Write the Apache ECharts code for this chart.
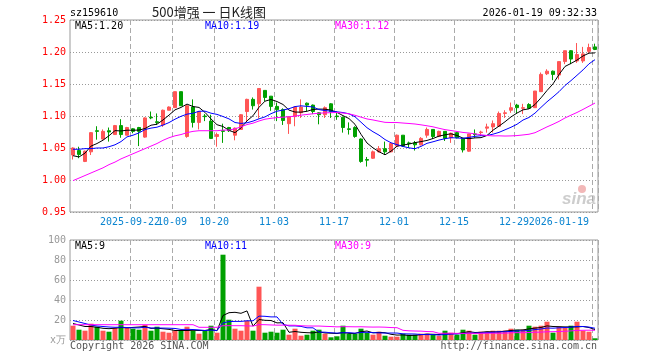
<!DOCTYPE html>
<html><head><meta charset="utf-8">
<script src="https://cdn.jsdelivr.net/npm/echarts@6/dist/echarts.min.js"></script>
<style>html,body{margin:0;padding:0;background:#fff}#c{width:660px;height:360px}</style>
</head><body><div id="c"></div>
<script>
const dates = [
'2025-09-08','2025-09-09','2025-09-10','2025-09-11','2025-09-12','2025-09-15','2025-09-16','2025-09-17','2025-09-18','2025-09-19',
'2025-09-22','2025-09-23','2025-09-24','2025-09-25','2025-09-26','2025-09-29','2025-09-30',
'2025-10-09','2025-10-10','2025-10-13','2025-10-14','2025-10-15','2025-10-16','2025-10-17','2025-10-20','2025-10-21','2025-10-22','2025-10-23','2025-10-24','2025-10-27','2025-10-28','2025-10-29','2025-10-30','2025-10-31',
'2025-11-03','2025-11-04','2025-11-05','2025-11-06','2025-11-07','2025-11-10','2025-11-11','2025-11-12','2025-11-13','2025-11-14','2025-11-17','2025-11-18','2025-11-19','2025-11-20','2025-11-21','2025-11-24','2025-11-25','2025-11-26','2025-11-27','2025-11-28',
'2025-12-01','2025-12-02','2025-12-03','2025-12-04','2025-12-05','2025-12-08','2025-12-09','2025-12-10','2025-12-11','2025-12-12','2025-12-15','2025-12-16','2025-12-17','2025-12-18','2025-12-19','2025-12-22','2025-12-23','2025-12-24','2025-12-25','2025-12-26','2025-12-29','2025-12-30','2025-12-31',
'2026-01-05','2026-01-06','2026-01-07','2026-01-08','2026-01-09','2026-01-12','2026-01-13','2026-01-14','2026-01-15','2026-01-16','2026-01-19'];

const opens = [1.039,1.046,1.029,1.044,1.077,1.064,1.077,1.071,1.085,1.070,
1.080,1.082,1.067,1.098,1.091,1.086,1.109,1.113,1.138,1.068,
1.114,1.090,1.100,1.092,1.068,1.077,1.082,1.070,1.079,1.107,
1.126,1.119,1.140,1.131,1.115,1.110,1.088,1.099,1.105,1.120,
1.117,1.105,1.102,1.119,1.100,1.098,1.080,1.082,1.064,1.032,
1.034,1.044,1.049,1.044,1.053,1.070,1.058,1.058,1.055,1.070,
1.079,1.068,1.076,1.066,1.074,1.065,1.045,1.072,1.074,1.081,
1.083,1.084,1.104,1.109,1.117,1.112,1.118,1.113,1.138,1.166,
1.170,1.164,1.185,1.202,1.186,1.186,1.201,1.208];
const closes = [1.050,1.040,1.045,1.074,1.076,1.076,1.075,1.085,1.071,1.082,
1.076,1.076,1.097,1.097,1.090,1.109,1.114,1.138,1.116,1.116,
1.090,1.107,1.099,1.065,1.071,1.076,1.077,1.081,1.102,1.126,
1.116,1.143,1.129,1.115,1.110,1.093,1.099,1.114,1.114,1.117,
1.107,1.102,1.113,1.107,1.099,1.082,1.079,1.068,1.029,1.031,
1.044,1.049,1.044,1.057,1.070,1.053,1.057,1.055,1.065,1.079,
1.068,1.076,1.065,1.073,1.066,1.047,1.072,1.071,1.075,1.083,
1.088,1.104,1.105,1.113,1.113,1.113,1.112,1.139,1.165,1.170,
1.165,1.185,1.202,1.189,1.196,1.197,1.207,1.204];
const lows = [1.032,1.034,1.028,1.039,1.063,1.063,1.060,1.071,1.066,1.070,
1.073,1.053,1.066,1.095,1.086,1.083,1.109,1.113,1.116,1.066,
1.082,1.079,1.092,1.064,1.052,1.058,1.075,1.062,1.079,1.091,
1.110,1.096,1.123,1.108,1.092,1.086,1.072,1.084,1.097,1.107,
1.103,1.087,1.097,1.097,1.094,1.074,1.071,1.066,1.027,1.021,
1.033,1.043,1.040,1.043,1.052,1.052,1.050,1.046,1.054,1.066,
1.064,1.067,1.061,1.058,1.065,1.043,1.044,1.066,1.069,1.074,
1.074,1.084,1.097,1.105,1.104,1.103,1.111,1.113,1.138,1.164,
1.156,1.157,1.181,1.181,1.183,1.183,1.198,1.203];
const highs = [1.051,1.052,1.046,1.075,1.084,1.079,1.082,1.086,1.095,1.083,
1.081,1.083,1.098,1.107,1.104,1.110,1.115,1.138,1.138,1.117,
1.126,1.108,1.103,1.102,1.074,1.088,1.083,1.082,1.103,1.127,
1.129,1.143,1.140,1.131,1.121,1.112,1.100,1.115,1.126,1.121,
1.118,1.106,1.115,1.120,1.107,1.099,1.090,1.084,1.065,1.036,
1.046,1.053,1.060,1.058,1.071,1.070,1.060,1.061,1.067,1.082,
1.079,1.077,1.076,1.074,1.075,1.065,1.072,1.079,1.077,1.088,
1.093,1.107,1.109,1.121,1.119,1.119,1.120,1.139,1.168,1.173,
1.171,1.185,1.202,1.203,1.214,1.208,1.213,1.213];
const volumes = [14.3,10.3,9.3,16.3,13.3,9.3,8.3,12,19.3,12,
11.3,10.3,15,9.3,13.3,8.3,7.3,9.3,9.3,13.3,
9.3,6.3,9.3,14.3,7.3,85.3,20.3,11.3,9.3,19.3,
9.3,53.3,7.3,8.3,7.3,10.3,5.3,11.3,4.3,5.3,
9.3,10.3,6.3,2.7,3.7,14.3,6,6,11.3,7.3,
5.3,8.3,4.3,3.3,3.3,6.3,5.3,5.3,6.3,6.3,
5.3,4.3,9.3,7.3,5.3,10.3,9.3,5.3,8.3,8.3,
9.3,9.3,9.3,11.3,10.3,10.3,14.3,13.3,14.3,18.3,
7.3,13.3,12.3,14.3,18.3,9.3,8.3,1.7];

// MA values for days whose window reaches before the first shown day
const ma5Head = [1.038,1.036,1.042,1.053];
const ma10Head = [1.048,1.048,1.049,1.049,1.050,1.050,1.052,1.055,1.060];
const ma30Head = [0.999,1.003,1.007,1.011,1.015,1.019,1.024,1.028,1.033,1.037,1.041,1.045,1.049,1.053,1.057,1.062,1.066,1.069,1.071,1.074,1.076,1.077,1.077,1.077,1.077,1.078,1.078,1.080,1.083];
const volMa5Head = [16.5,15,13.5,13.5];
const volMa10Head = [19.5,18,16.5,15,14,13.5,13,12.7,12.8];
const volMa30Head = [15.3,15.3,15.3,15.3,15.3,15.3,15.3,15.3,15.3,15.3,15.3,15.3,15.3,15.3,15.3,15.3,15.3,15.3,15.3,15.3,15.3,12.7,12.7,12.7,12.7,14.3,14.3,14.3,14.3];

const tickDates = ['2025-09-22','2025-10-09','2025-10-20','2025-11-03','2025-11-17','2025-12-01','2025-12-15','2025-12-29','2026-01-19'];
const tickTexts = ['2025-09-22','10-09','10-20','11-03','11-17','12-01','12-15','12-29','2026-01-19'];
const priceLegend = ['MA5:1.20','MA10:1.19','MA30:1.12'];
const volLegend = ['MA5:9','MA10:11','MA30:9'];
const volUnit = 'x万';

function movingAvg(vals, n, head) {
  return vals.map((v, i) => {
    if (i < head.length) return head[i];
    let s = 0; for (let k = i - n + 1; k <= i; k++) s += vals[k];
    return +(s / n).toFixed(4);
  });
}

const RED = '#ff5555', GREEN = '#00a000';
const MONO = '"DejaVu Sans Mono", "Liberation Mono", monospace';
const isTick = (i, v) => tickDates.indexOf(v) >= 0;

const chart = echarts.init(document.getElementById('c'), null, {renderer: 'canvas'});
const xBase = (gi, labels) => ({
  type: 'category', gridIndex: gi, data: dates, boundaryGap: true,
  axisLine: {show: false}, axisTick: {show: false},
  axisLabel: labels ? {
    show: true, interval: 0, hideOverlap: false,
    formatter: v => { const k = tickDates.indexOf(v); return k >= 0 ? tickTexts[k] : ''; },
    color: '#0a84d0', fontFamily: MONO, fontSize: 10, margin: 5, padding: [0, 6, 0, 0],
    alignMaxLabel: 'right'
  } : {show: false},
  splitLine: {show: true, interval: isTick, lineStyle: {color: '#aaa', type: [5, 3], width: 1}}
});
const legendText = (x, y, text, color) => ({type: 'text', x: x, y: y, silent: true,
  style: {text: text, fill: color, font: '10px ' + MONO, textVerticalAlign: 'middle'}});

chart.setOption({
  animation: false,
  backgroundColor: '#fff',
  grid: [
    {left: 70, top: 20, width: 528, height: 192, show: true, borderColor: '#999', borderWidth: 1},
    {left: 70, top: 240, width: 528, height: 100, show: true, borderColor: '#999', borderWidth: 1}
  ],
  xAxis: [xBase(0, true), xBase(1, false)],
  yAxis: [
    {type: 'value', gridIndex: 0, min: 0.95, max: 1.25, interval: 0.05,
     axisLine: {show: false}, axisTick: {show: false},
     axisLabel: {color: '#ff0000', fontFamily: MONO, fontSize: 10, margin: 4, formatter: v => v.toFixed(2)},
     splitLine: {lineStyle: {color: '#999', type: [1, 2]}}},
    {type: 'value', gridIndex: 1, min: 0, max: 100, interval: 20,
     axisLine: {show: false}, axisTick: {show: false},
     axisLabel: {color: '#999', fontFamily: MONO, fontSize: 10, margin: 4, formatter: v => v === 0 ? volUnit : String(v)},
     splitLine: {lineStyle: {color: '#999', type: [1, 2]}}}
  ],
  series: [
    {type: 'candlestick', xAxisIndex: 0, yAxisIndex: 0, barWidth: 4, silent: true,
     data: dates.map((d, i) => [opens[i], closes[i], lows[i], highs[i]]),
     itemStyle: {color: RED, color0: GREEN, borderColor: RED, borderColor0: GREEN, borderWidth: 1}},
    {type: 'line', xAxisIndex: 0, yAxisIndex: 0, data: movingAvg(closes, 5, ma5Head), symbol: 'none', silent: true,
     lineStyle: {color: '#000', width: 1}},
    {type: 'line', xAxisIndex: 0, yAxisIndex: 0, data: movingAvg(closes, 10, ma10Head), symbol: 'none', silent: true,
     lineStyle: {color: '#0000ff', width: 1}},
    {type: 'line', xAxisIndex: 0, yAxisIndex: 0, data: movingAvg(closes, 30, ma30Head), symbol: 'none', silent: true,
     lineStyle: {color: '#ff00ff', width: 1}},
    {type: 'bar', xAxisIndex: 1, yAxisIndex: 1, barWidth: 5, silent: true,
     data: volumes.map((v, i) => ({value: v, itemStyle: {color: closes[i] >= opens[i] ? RED : GREEN}}))},
    {type: 'line', xAxisIndex: 1, yAxisIndex: 1, data: movingAvg(volumes, 5, volMa5Head), symbol: 'none', silent: true,
     lineStyle: {color: '#000', width: 1}},
    {type: 'line', xAxisIndex: 1, yAxisIndex: 1, data: movingAvg(volumes, 10, volMa10Head), symbol: 'none', silent: true,
     lineStyle: {color: '#0000ff', width: 1}},
    {type: 'line', xAxisIndex: 1, yAxisIndex: 1, data: movingAvg(volumes, 30, volMa30Head), symbol: 'none', silent: true,
     lineStyle: {color: '#ff00ff', width: 1}}
  ],
  graphic: [
    {type: 'text', x: 70, y: 13, silent: true, style: {text: 'sz159610', fill: '#000', font: '10px ' + MONO, textVerticalAlign: 'middle'}},
    {type: 'text', x: 209, y: 12, silent: true, style: {text: '500增强 一 日K线图', fill: '#222', font: '13px "Noto Sans CJK SC"', textAlign: 'center', textVerticalAlign: 'middle'}},
    {type: 'text', x: 597, y: 13, silent: true, style: {text: '2026-01-19 09:32:33', fill: '#000', font: '10px ' + MONO, textAlign: 'right', textVerticalAlign: 'middle'}},
    legendText(75, 26, priceLegend[0], '#000'),
    legendText(205, 26, priceLegend[1], '#0000ff'),
    legendText(335, 26, priceLegend[2], '#ff00ff'),
    legendText(75, 246, volLegend[0], '#000'),
    legendText(205, 246, volLegend[1], '#0000ff'),
    legendText(335, 246, volLegend[2], '#ff00ff'),
    {type: 'circle', silent: true, shape: {cx: 582, cy: 189, r: 4}, style: {fill: '#f2b8b8'}},
    {type: 'text', x: 596, y: 199, silent: true, style: {text: 'sina', fill: '#cdcdcd', font: 'italic bold 17px "Liberation Sans", Arial', textAlign: 'right', textVerticalAlign: 'middle'}},
    {type: 'text', x: 70, y: 346, silent: true, style: {text: 'Copyright 2026 SINA.COM', fill: '#555', font: '10px ' + MONO, textVerticalAlign: 'middle'}},
    {type: 'text', x: 597, y: 346, silent: true, style: {text: 'http://finance.sina.com.cn', fill: '#555', font: '10px ' + MONO, textAlign: 'right', textVerticalAlign: 'middle'}}
  ]
});
</script></body></html>
